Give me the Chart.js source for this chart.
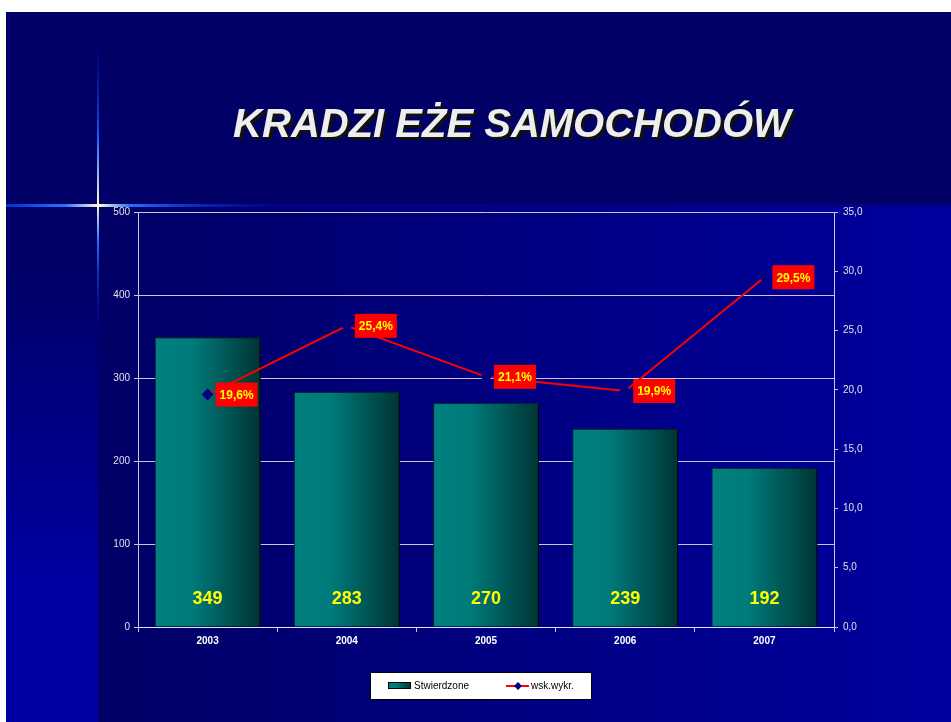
<!DOCTYPE html>
<html>
<head>
<meta charset="utf-8">
<script src="https://cdn.jsdelivr.net/npm/chart.js@4.4.1/dist/chart.umd.min.js"></script>
<style>
    html, body { margin: 0; padding: 0; background: #ffffff; }
    #wrap { width: 951px; height: 722px; }
</style>
</head>
<body>
<div id="wrap"><canvas id="chart" width="951" height="722"></canvas></div>
<script>
var years = ['2003', '2004', '2005', '2006', '2007'];
var stwierdzone = [349, 283, 270, 239, 192];
var wskWykr = [19.6, 25.4, 21.1, 19.9, 29.5];
var titleText = 'KRADZI EŻE SAMOCHODÓW';

var FONT = '"Liberation Sans", Arial, sans-serif';
var BAR_PCT = 0.76;

function formatComma(v, digits) {
    return v.toFixed(digits).replace('.', ',');
}

function tealGradient(ctx, x0, x1) {
    var g = ctx.createLinearGradient(x0, 0, x1, 0);
    g.addColorStop(0, '#008080');
    g.addColorStop(0.35, '#007a7a');
    g.addColorStop(1, '#003434');
    return g;
}

function barFill(context) {
    var chart = context.chart;
    var xs = chart.scales.x;
    if (!chart.chartArea || !xs) {
        return '#007070';
    }
    var center = xs.getPixelForValue(context.dataIndex);
    var half = xs.width / years.length * BAR_PCT / 2;
    return tealGradient(chart.ctx, center - half, center + half);
}

var backgroundPlugin = {
    id: 'slideBackground',
    beforeDraw: function (chart) {
        var ctx = chart.ctx, w = chart.width, h = chart.height;
        ctx.save();
        ctx.fillStyle = '#ffffff';
        ctx.fillRect(0, 0, w, h);
        ctx.fillStyle = '#000066';
        ctx.fillRect(6, 12, w - 6, h - 12);

        var g = ctx.createLinearGradient(98, 0, w, 0);
        g.addColorStop(0, '#000066');
        g.addColorStop(1, '#00009e');
        ctx.fillStyle = g;
        ctx.fillRect(98, 207, w - 98, h - 207);

        var g2 = ctx.createLinearGradient(0, 260, 0, 580);
        g2.addColorStop(0, '#000066');
        g2.addColorStop(1, '#0000a0');
        ctx.fillStyle = g2;
        ctx.fillRect(6, 207, 92, h - 207);

        // thin band under the title
        ctx.fillStyle = '#000088';
        ctx.fillRect(6, 204, w - 6, 3);

        // light flare
        var gh = ctx.createLinearGradient(6, 0, 300, 0);
        gh.addColorStop(0, '#0030d0');
        gh.addColorStop(0.2, '#2a70ff');
        gh.addColorStop(0.315, '#ffffd8');
        gh.addColorStop(0.42, '#2a70ff');
        gh.addColorStop(1, 'rgba(0,0,160,0)');
        ctx.fillStyle = gh;
        ctx.fillRect(6, 204, 294, 3);

        var gv = ctx.createLinearGradient(0, 30, 0, 340);
        gv.addColorStop(0, 'rgba(0,0,160,0)');
        gv.addColorStop(0.35, '#1a60ff');
        gv.addColorStop(0.56, '#ffffd8');
        gv.addColorStop(0.68, '#2a70ff');
        gv.addColorStop(1, 'rgba(0,0,160,0)');
        ctx.fillStyle = gv;
        ctx.fillRect(97, 30, 2, 310);

        // title
        ctx.font = 'italic bold 40px ' + FONT;
        ctx.textAlign = 'center';
        ctx.textBaseline = 'alphabetic';
        ctx.fillStyle = '#111111';
        ctx.fillText(titleText, 515, 140);
        ctx.fillStyle = '#eeeeee';
        ctx.fillText(titleText, 512, 137);
        ctx.restore();
    }
};

var barShadowPlugin = {
    id: 'barShadow',
    beforeDatasetDraw: function (chart, args) {
        if (args.index !== 0) return;
        var ctx = chart.ctx;
        ctx.save();
        ctx.shadowColor = '#000000';
        ctx.shadowOffsetX = 4;
        ctx.shadowOffsetY = 0;
        ctx.shadowBlur = 0;
    },
    afterDatasetDraw: function (chart, args) {
        if (args.index !== 0) return;
        chart.ctx.restore();
    }
};

var labelPlugin = {
    id: 'valueLabels',
    afterDatasetsDraw: function (chart) {
        var ctx = chart.ctx;
        var bars = chart.getDatasetMeta(0).data;
        var points = chart.getDatasetMeta(1).data;
        ctx.save();
        ctx.textAlign = 'center';
        ctx.textBaseline = 'middle';
        ctx.font = 'bold 18px ' + FONT;
        ctx.fillStyle = '#ffff00';
        bars.forEach(function (bar, i) {
            ctx.fillText(String(stwierdzone[i]), bar.x, chart.chartArea.bottom - 28);
        });
        ctx.font = 'bold 12px ' + FONT;
        points.forEach(function (pt, i) {
            ctx.fillStyle = '#ff0000';
            ctx.fillRect(pt.x + 8, pt.y - 12, 42, 24);
            ctx.fillStyle = '#ffff00';
            ctx.fillText(formatComma(wskWykr[i], 1) + '%', pt.x + 29, pt.y + 1);
        });
        ctx.restore();
    }
};

var legendPlugin = {
    id: 'boxLegend',
    afterDraw: function (chart) {
        var ctx = chart.ctx;
        var ds = chart.data.datasets;
        ctx.save();
        ctx.fillStyle = '#ffffff';
        ctx.fillRect(370, 672, 222, 28);
        ctx.strokeStyle = '#000000';
        ctx.lineWidth = 1;
        ctx.strokeRect(370.5, 672.5, 221, 27);

        ctx.fillStyle = tealGradient(ctx, 388, 411);
        ctx.fillRect(388, 682, 23, 7);
        ctx.strokeRect(388.5, 682.5, 22, 6);

        ctx.strokeStyle = '#ff0000';
        ctx.lineWidth = 2;
        ctx.beginPath();
        ctx.moveTo(506, 686);
        ctx.lineTo(529, 686);
        ctx.stroke();
        ctx.fillStyle = '#000080';
        ctx.beginPath();
        ctx.moveTo(518, 682);
        ctx.lineTo(522, 686);
        ctx.lineTo(518, 690);
        ctx.lineTo(514, 686);
        ctx.closePath();
        ctx.fill();

        ctx.fillStyle = '#000000';
        ctx.font = '10px ' + FONT;
        ctx.textAlign = 'left';
        ctx.textBaseline = 'middle';
        ctx.fillText(ds[0].label, 414, 686);
        ctx.fillText(ds[1].label, 531, 686);
        ctx.restore();
    }
};

var axisColor = '#c8c8dc';
var tickColor = '#e0e0ee';

new Chart(document.getElementById('chart'), {
    data: {
        labels: years,
        datasets: [
            {
                type: 'bar',
                label: 'Stwierdzone',
                data: stwierdzone,
                yAxisID: 'y',
                order: 2,
                backgroundColor: barFill,
                borderColor: '#002a2a',
                borderWidth: 1,
                barPercentage: BAR_PCT,
                categoryPercentage: 1
            },
            {
                type: 'line',
                label: 'wsk.wykr.',
                data: wskWykr,
                yAxisID: 'y1',
                order: 1,
                borderColor: '#ff0000',
                borderWidth: 2,
                tension: 0,
                pointStyle: 'rectRot',
                pointRadius: 6,
                pointBackgroundColor: '#000080',
                pointBorderColor: '#000080',
                pointBorderWidth: 0
            }
        ]
    },
    options: {
        responsive: false,
        animation: false,
        devicePixelRatio: 1,
        layout: {
            padding: { top: 212, bottom: 65, left: 0, right: 0 }
        },
        plugins: {
            legend: { display: false },
            title: { display: false },
            tooltip: { enabled: false }
        },
        scales: {
            x: {
                afterFit: function (scale) { scale.height = 30; },
                grid: {
                    offset: true,
                    drawOnChartArea: false,
                    drawTicks: true,
                    tickLength: 5,
                    color: axisColor
                },
                border: { color: '#e8e8f0', width: 1 },
                ticks: {
                    color: '#ffffff',
                    padding: 3,
                    font: { family: FONT, size: 10, weight: 'bold' }
                }
            },
            y: {
                position: 'left',
                min: 0,
                max: 500,
                afterFit: function (scale) { scale.width = 138; },
                ticks: {
                    stepSize: 100,
                    color: tickColor,
                    padding: 4,
                    font: { family: FONT, size: 10 }
                },
                grid: {
                    color: axisColor,
                    lineWidth: 1,
                    tickLength: 4
                },
                border: { color: axisColor, width: 1 }
            },
            y1: {
                position: 'right',
                min: 0,
                max: 35,
                afterFit: function (scale) { scale.width = 117; },
                ticks: {
                    stepSize: 5,
                    color: tickColor,
                    padding: 5,
                    font: { family: FONT, size: 10 },
                    callback: function (v) { return formatComma(v, 1); }
                },
                grid: {
                    drawOnChartArea: false,
                    color: axisColor,
                    tickLength: 4
                },
                border: { color: axisColor, width: 1 }
            }
        }
    },
    plugins: [backgroundPlugin, barShadowPlugin, labelPlugin, legendPlugin]
});
</script>
</body>
</html>
